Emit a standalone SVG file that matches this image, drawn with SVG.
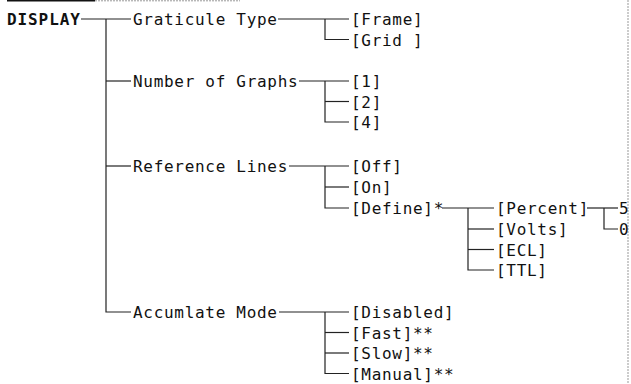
<svg xmlns="http://www.w3.org/2000/svg" width="631" height="384" viewBox="0 0 631 384">
<style>
  text { font-family: "DejaVu Sans Mono", "Liberation Mono", monospace; font-size: 16px; letter-spacing: 0.7px; fill: #111; white-space: pre; }
  .root { font-weight: bold; letter-spacing: 0.9px; }
  .c path { fill: none; stroke: #222; stroke-width: 1.2; }
  .scan { fill: none; stroke: #999; stroke-width: 1; stroke-dasharray: 2 1; }
</style>
<rect width="631" height="384" fill="#fff"/>
<g id="scan-marks">
  <path d="M7 0.8 H95" stroke="#111" stroke-width="1.6" fill="none"/>
  <path class="scan" d="M95 0.8 H240"/>
  <path class="scan" d="M628 0 V384"/>
</g>
<g class="c" id="connectors">
  <path d="M81 19 H131"/>
  <path d="M106 19 V312 H131"/>
  <path d="M106 81 H131"/>
  <path d="M106 166 H131"/>
  <path d="M278 19 H349"/>
  <path d="M325 19 V39.5 H349"/>
  <path d="M299 81 H349"/>
  <path d="M325 81 V122 H349"/>
  <path d="M325 101.5 H349"/>
  <path d="M289 166 H349"/>
  <path d="M325 166 V208 H349"/>
  <path d="M325 187 H349"/>
  <path d="M442 208 H494"/>
  <path d="M468 208 V270 H494"/>
  <path d="M468 229 H494"/>
  <path d="M468 249.5 H494"/>
  <path d="M587 208 H618"/>
  <path d="M604 208 V229 H618"/>
  <path d="M279 312 H349"/>
  <path d="M325 312 V373.5 H349"/>
  <path d="M325 332.5 H349"/>
  <path d="M325 353 H349"/>
</g>
<g id="display"><text class="root" x="7" y="25">DISPLAY</text></g>
<g id="graticule-type"><text x="133" y="25">Graticule Type</text></g>
<g id="frame"><text x="351" y="25">[Frame]</text></g>
<g id="grid"><text x="351" y="45.5">[Grid ]</text></g>
<g id="number-of-graphs"><text x="133" y="87">Number of Graphs</text></g>
<g id="graphs-1"><text x="351" y="87">[1]</text></g>
<g id="graphs-2"><text x="351" y="107.5">[2]</text></g>
<g id="graphs-4"><text x="351" y="128">[4]</text></g>
<g id="reference-lines"><text x="133" y="172">Reference Lines</text></g>
<g id="ref-off"><text x="351" y="172">[Off]</text></g>
<g id="ref-on"><text x="351" y="193">[On]</text></g>
<g id="ref-define"><text x="351" y="214">[Define]*</text></g>
<g id="percent"><text x="496" y="214">[Percent]</text></g>
<g id="volts"><text x="496" y="235">[Volts]</text></g>
<g id="ecl"><text x="496" y="255.5">[ECL]</text></g>
<g id="ttl"><text x="496" y="276">[TTL]</text></g>
<g id="pct-5"><text x="619" y="214">5</text></g>
<g id="pct-0"><text x="619" y="235">0</text></g>
<g id="accumlate-mode"><text x="133" y="318">Accumlate Mode</text></g>
<g id="acc-disabled"><text x="351" y="318">[Disabled]</text></g>
<g id="acc-fast"><text x="351" y="338.5">[Fast]**</text></g>
<g id="acc-slow"><text x="351" y="359">[Slow]**</text></g>
<g id="acc-manual"><text x="351" y="379.5">[Manual]**</text></g>
</svg>
